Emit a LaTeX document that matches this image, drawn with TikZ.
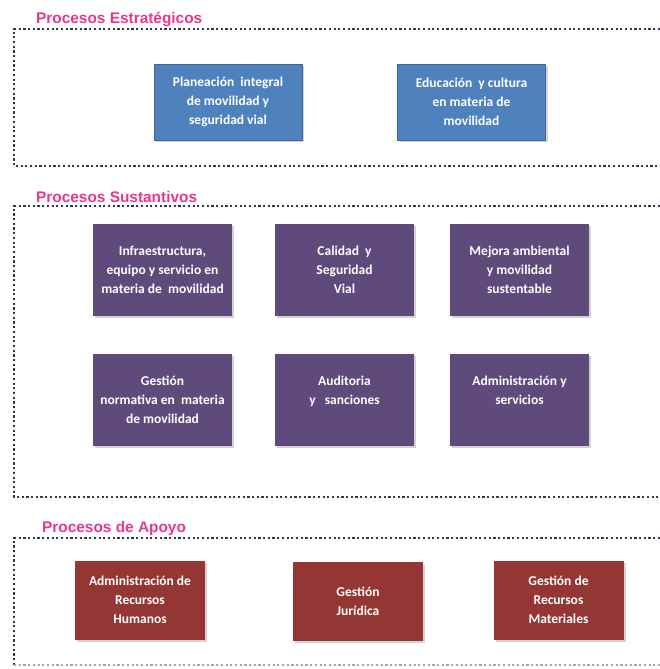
\documentclass[tikz,border=0pt]{standalone}
\usepackage{fontspec}
\setmainfont{Carlito}
\newfontfamily\titlefont{Liberation Sans}
\usepackage{tikz}
\usetikzlibrary{positioning,shadows}
\definecolor{azulproc}{HTML}{4F81BD}
\definecolor{moradoproc}{HTML}{5F4A7B}
\definecolor{rojoproc}{HTML}{943634}
\definecolor{rosatit}{HTML}{E8368F}
\definecolor{puntos}{HTML}{2E3A50}
\tikzstyle{caja}=[rectangle,text=white,align=center,inner sep=0pt,
  font=\fontsize{13.5}{19}\selectfont\bfseries,
  drop shadow={shadow xshift=2pt,shadow yshift=-2pt,opacity=0.35}]
\tikzstyle{estrat}=[caja,fill=azulproc,draw=azulproc!80!black,minimum width=148pt,minimum height=76pt]
\tikzstyle{sustan}=[caja,fill=moradoproc,minimum width=139pt,minimum height=92pt]
\tikzstyle{apoyo}=[caja,fill=rojoproc,minimum width=130pt,minimum height=79pt]
\tikzstyle{titulo}=[anchor=base west,inner sep=0pt,text=rosatit,font=\titlefont\fontsize{15.4}{18}\selectfont\bfseries]
\tikzstyle{marco}=[puntos,line width=2.5pt,dash pattern=on 2.2pt off 2.5pt]

\begin{document}
\begin{tikzpicture}[x=1pt,y=-1pt]
    \useasboundingbox (0,0) rectangle (660,669);
    % estrategicos
    \node [titulo] (tEst) at (36,24) {Procesos Estratégicos};
    \draw [marco] (660,29) -| (14,166) -- (660,166);
    \node [estrat] (planeacion) at (228,102) {Planeación \ integral\\ de movilidad y\\ seguridad vial};
    \node [estrat] (educacion) at (471.5,102) {Educación \ y cultura\\ en materia de\\ movilidad};
    % sustantivos
    \node [titulo] (tSus) at (36,202) {Procesos Sustantivos};
    \draw [marco] (660,206) -| (14,497) -- (660,497);
    \node [sustan] (infra) at (162.5,270) {Infraestructura,\\ equipo y servicio en\\ materia de \ movilidad};
    \node [sustan] (calidad) at (344.5,270) {Calidad \ y\\ Seguridad\\ Vial};
    \node [sustan] (mejora) at (519.5,270) {Mejora ambiental\\ y movilidad\\ sustentable};
    \node [sustan] (normativa) at (162.5,400) {Gestión\\ normativa en \ materia\\ de movilidad};
    \node [sustan] (auditoria) at (344.5,400) {Auditoria\\ y \ \ sanciones\\ \mbox{}};
    \node [sustan] (admin) at (519.5,400) {Administración y\\ servicios\\ \mbox{}};
    % apoyo
    \node [titulo] (tApo) at (42,532) {Procesos de Apoyo};
    \draw [marco] (660,538) -| (14,665);
    \draw [marco,puntos!45] (14,665) -- (660,665);
    \node [apoyo] (rrhh) at (140,600) {Administración de\\ Recursos\\ Humanos};
    \node [apoyo] (juridica) at (358,601.5) {Gestión\\ Jurídica};
    \node [apoyo] (rmat) at (558.5,600) {Gestión de\\ Recursos\\ Materiales};
\end{tikzpicture}
\end{document}
